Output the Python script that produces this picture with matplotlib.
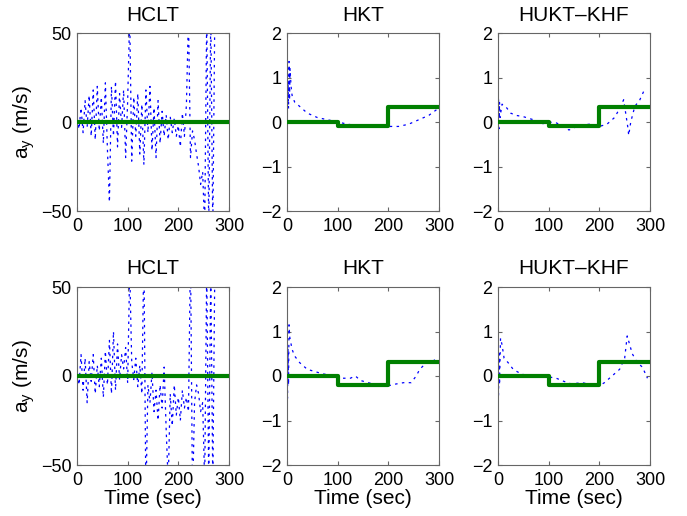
import matplotlib
matplotlib.use("Agg")
import matplotlib.pyplot as plt
import numpy as np

plt.rcParams['font.family'] = ['Liberation Sans', 'DejaVu Sans']
plt.rcParams['mathtext.fontset'] = 'custom'
plt.rcParams['mathtext.rm'] = 'Liberation Sans'

# ---------------- data ----------------
step_t = [0, 100, 200, 300]
true_top = [0, -0.1, 0.33, 0.33]
true_bot = [0, -0.2, 0.31, 0.31]
true_zero = [0, 0, 0, 0]

hclt_t = list(range(0, 276, 4))
hclt_top = [2, -4, 8, -6, 12, -3, 15, -8, 18, -10, 20, -5, 14, -12, 22, -15,
            -45, 20, -8, 23, -14, 16, -3, 18, -20, 12, 60, -22, 14, -8, 16, -18,
            10, -24, 18, -6, 20, -16, 8, -20, 12, -12, 6, -8, 4, -10, 3, -6,
            2, -8, -2, -14, 5, -8, 10, 60, -20, -5, -10, -18, -25, -35, -28, -60,
            60, -60, 60, -60, 60]
hclt_bot = [5, -5, 12, -8, 10, -15, 8, -3, 12, -10, 6, -6, 10, -12, 14, -5,
            20, -10, 25, -8, 18, -2, 12, 4, 16, -4, 60, 8, -2, 10, -6, 6,
            -10, 70, -70, -5, -15, 2, -20, -8, -25, -5, -18, 5, -30, -60, -10, -28,
            -5, -22, -12, -25, -8, -18, -12, -20, 70, -70, -15, -5, -10, -20, -15, -60,
            60, -60, 60, -60, 60]

hkt_top_t = [0, 2, 3, 4, 5, 6, 8, 10, 15, 25, 40, 60, 80, 100, 120, 150, 175, 200, 220, 240, 260, 280, 298]
hkt_top_y = [0.05, 0.9, 0.3, 1.36, 0.5, 1.2, 0.8, 0.6, 0.45, 0.35, 0.2, 0.1, 0.05, 0.0, -0.05, -0.1, -0.12, -0.1, -0.1, -0.05, 0.05, 0.15, 0.3]

hukt_top_t = [0, 1, 2, 3, 4, 8, 15, 25, 35, 50, 70, 85, 100, 115, 130, 140, 160, 180, 200, 215, 230, 240, 248, 252, 256, 258, 262, 270, 280, 290]
hukt_top_y = [0.0, 0.55, -0.15, 0.45, 0.1, 0.4, 0.35, 0.2, 0.15, 0.12, 0.05, -0.05, 0.0, -0.02, -0.1, -0.18, -0.08, -0.05, -0.1, -0.05, 0.1, 0.3, 0.5, 0.2, -0.1, -0.3, 0.0, 0.35, 0.5, 0.75]

hkt_bot_t = [0, 1, 2, 3, 4, 5, 10, 15, 25, 40, 55, 70, 85, 100, 110, 125, 135, 145, 160, 180, 200, 215, 230, 245, 255, 262, 275, 290, 298]
hkt_bot_y = [0.0, -0.5, 0.6, -0.2, 1.15, 0.9, 0.6, 0.45, 0.3, 0.15, 0.1, 0.05, 0.02, -0.05, -0.05, -0.05, 0.0, -0.1, -0.15, -0.2, -0.22, -0.18, -0.15, -0.15, 0.0, 0.15, 0.3, 0.35, 0.4]

hukt_bot_t = [0, 1, 2, 3, 5, 8, 12, 20, 30, 45, 60, 80, 100, 115, 130, 145, 165, 190, 200, 210, 225, 240, 250, 255, 260, 265, 275, 285, 295]
hukt_bot_y = [0.0, -0.45, 0.5, -0.2, 0.85, 0.7, 0.4, 0.3, 0.15, 0.05, 0.0, 0.0, -0.02, -0.05, -0.12, -0.18, -0.15, -0.2, -0.22, -0.15, 0.0, 0.15, 0.4, 0.9, 0.7, 0.5, 0.3, 0.2, -0.05]

titles = ['HCLT', 'HKT', 'HUKT\u2013KHF']
xticks = [0, 100, 200, 300]

# ---------------- figure ----------------
fig = plt.figure(figsize=(6.87, 5.16), dpi=100)
lefts = [77 / 687, 287 / 687, 498 / 687]
bottoms = [1 - 211 / 516, 1 - 465 / 516]
w = 152 / 687
h = 178 / 516

panels = [
    [(hclt_t, hclt_top, true_zero, (-50, 50), [-50, 0, 50]),
     (hkt_top_t, hkt_top_y, true_top, (-2, 2), [-2, -1, 0, 1, 2]),
     (hukt_top_t, hukt_top_y, true_top, (-2, 2), [-2, -1, 0, 1, 2])],
    [(hclt_t, hclt_bot, true_zero, (-50, 50), [-50, 0, 50]),
     (hkt_bot_t, hkt_bot_y, true_bot, (-2, 2), [-2, -1, 0, 1, 2]),
     (hukt_bot_t, hukt_bot_y, true_bot, (-2, 2), [-2, -1, 0, 1, 2])],
]

for r in range(2):
    for c in range(3):
        t, y, tr, ylim, yt = panels[r][c]
        ax = fig.add_axes([lefts[c], bottoms[r], w, h])
        ax.plot(t, y, color='blue', lw=0.9, linestyle=(0, (2, 3.5)), zorder=2)
        ax.step(step_t, tr, where='post', color=(0, 0.5, 0), lw=3, zorder=3)
        ax.set_xlim(0, 300)
        ax.set_ylim(*ylim)
        ax.set_xticks(xticks)
        ax.set_yticks(yt)
        ax.set_yticklabels([str(v).replace('-', '\u2212') for v in yt])
        ax.tick_params(direction='in', top=True, right=True, labelsize=13,
                       length=3, color='#666666')
        ax.tick_params(axis='x', pad=5)
        ax.tick_params(axis='y', pad=4)
        for s in ax.spines.values():
            s.set_color('#666666')
            s.set_linewidth(0.8)
        ax.set_title(titles[c], fontsize=15, pad=9)
        if c == 0:
            ax.set_ylabel(r'a$_{\mathregular{y}}$ (m/s)', fontsize=15, labelpad=3)
        if r == 1:
            ax.set_xlabel('Time (sec)', fontsize=15, labelpad=0)

fig.savefig('out.png', dpi=100)
